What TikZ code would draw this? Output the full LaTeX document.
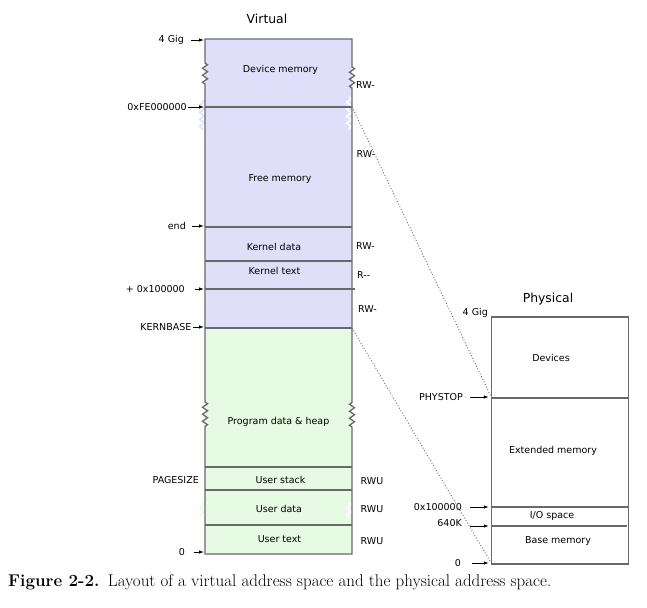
\documentclass[tikz,border=0pt]{standalone}
\usepackage{fontspec}
\newfontfamily\dejavu{DejaVu Sans}
\usetikzlibrary{positioning,arrows.meta,decorations.pathmorphing}
\definecolor{vlav}{RGB}{223,223,250}
\definecolor{vgreen}{RGB}{231,251,228}
\definecolor{edgegray}{RGB}{105,105,105}

\begin{document}
\begin{tikzpicture}[x=1pt,y=-1pt,
region/.style={rectangle, inner sep=0pt, outer sep=0pt, minimum width=147pt},
vtop/.style={region, fill=vlav},
vlow/.style={region, fill=vgreen},
preg/.style={region, minimum width=137pt, fill=white},
txt/.style={font=\dejavu\fontsize{9.5}{11}\selectfont, inner sep=0pt},
lbl/.style={txt, anchor=east},
perm/.style={txt, anchor=west},
title/.style={font=\dejavu\fontsize{12.4}{14}\selectfont, inner sep=0pt},
boxline/.style={draw=edgegray, line width=1.3pt},
ptr/.style={-{Latex[length=5pt,width=3.5pt]}, line width=0.8pt, black, shorten >=1pt},
map/.style={dotted, edgegray, line width=0.9pt, shorten >=3pt},
wavy/.style={decoration={zigzag, segment length=7pt, amplitude=2.5pt}},
]
\useasboundingbox (0,0) rectangle (647,607);

%% Virtual
\node[title] (vtitle) at (267,19) {Virtual};
\node[vtop, minimum height=68pt] (dev) at (278.5,73) {};
\node[vtop, minimum height=120pt, below=0pt of dev] (free) {};
\node[vtop, minimum height=34pt, below=0pt of free] (kdata) {};
\node[vtop, minimum height=28pt, below=0pt of kdata] (ktext) {};
\node[vtop, minimum height=39pt, below=0pt of ktext] (kbase) {};
\node[vlow, minimum height=139pt, below=0pt of kbase] (heap) {};
\node[vlow, minimum height=23pt, below=0pt of heap] (ustack) {};
\node[vlow, minimum height=35pt, below=0pt of ustack] (udata) {};
\node[vlow, minimum height=29pt, below=0pt of udata] (utext) {};
% faint breaks
\draw[vlav, line width=1.5pt, decorate, wavy] (202,100) -- (202,130);
\draw[white, line width=1.5pt, decorate, wavy] (349,97) -- (349,130);
\draw[vgreen, line width=1.5pt, decorate, wavy] (202,503) -- (202,517);
\draw[white, line width=1.5pt, decorate, wavy] (349,503) -- (349,517);
% outline
\draw[boxline] (dev.north west) -- (205,63) decorate[wavy]{-- (205,85)} -- (205,402)
  decorate[wavy]{-- (205,427)} -- (utext.south west) -- (utext.south east) -- (352,427)
  decorate[wavy]{-- (352,402)} -- (352,88) decorate[wavy]{-- (352,64)} -- (dev.north east) -- cycle;
\foreach \r in {dev,free,kdata,kbase,heap,ustack,udata}
  \draw[boxline] (\r.south west) -- (\r.south east);
\draw[boxline] (ktext.south west) -- ([xshift=3pt]ktext.south east);

\node[txt] (tdev) at (280.5,70) {Device memory};
\node[txt] (tfree) at (280,179) {Free memory};
\node[txt] (tkdata) at (274,247) {Kernel data};
\node[txt] (tktext) at (274.5,271) {Kernel text};
\node[txt] (theap) at (278.5,421.5) {Program data \& heap};
\node[txt] (tustack) at (280.5,480) {User stack};
\node[txt] (tudata) at (279,509) {User data};
\node[txt] (tutext) at (279.5,539) {User text};

\node[perm] (rw1) at (356,85) {RW-};
\node[perm] (rw2) at (356.5,154) {RW-};
\node[perm] (rw3) at (356,246.5) {RW-};
\node[perm] (r1) at (357,275) {R--};
\node[perm] (rw4) at (358,309) {RW-};
\node[perm] (rwu1) at (360.5,481) {RWU};
\node[perm] (rwu2) at (360.5,509) {RWU};
\node[perm] (rwu3) at (360.5,541) {RWU};

\node[lbl] (vgig) at (184,40) {4 Gig};
\node[lbl] (vfe) at (187,107) {0xFE000000};
\node[lbl] (vend) at (186,226) {end};
\node[lbl] (vmeg) at (185,289) {+ 0x100000};
\node[lbl] (vkern) at (191.5,327) {KERNBASE};
\node[lbl] (vpage) at (199,480) {PAGESIZE};
\node[lbl] (vzero) at (185,552) {0};
\draw[ptr, shorten <=7pt] (vgig.east) -- (vgig -| dev.west);
\draw[ptr, shorten <=1pt] (vfe.east) -- (vfe -| dev.west);
\draw[ptr, shorten <=6pt] (vend.east) -- (vend -| dev.west);
\draw[ptr, shorten <=10pt] (vmeg.east) -- (vmeg -| dev.west);
\draw[ptr, shorten <=1pt] (vkern.east) -- (vkern -| dev.west);
\draw[ptr, shorten <=9pt] (vzero.east) -- (vzero -| dev.west);

%% Physical
\node[title] (ptitle) at (548,299) {Physical};
\node[preg, minimum height=81pt] (pdev) at (560.25,357.5) {};
\node[preg, minimum height=109pt, below=0pt of pdev] (pext) {};
\node[preg, minimum height=19pt, below=0pt of pext] (pio) {};
\node[preg, minimum height=38pt, below=0pt of pio] (pbase) {};
\draw[boxline] (pdev.north west) rectangle (pbase.south east);
\foreach \r in {pdev,pext}
  \draw[boxline] (\r.south west) -- (\r.south east);
\draw[boxline] (pio.south west) -- ([xshift=-2pt]pio.south east);

\node[txt] (tpdev) at (551,358) {Devices};
\node[txt] (tpext) at (553,451) {Extended memory};
\node[txt] (tpio) at (552,516) {I/O space};
\node[txt] (tpbase) at (558,541) {Base memory};

\node[lbl] (pgig) at (488,313) {4 Gig};
\node[lbl] (pstop) at (463,397) {PHYSTOP};
\node[lbl] (pmeg) at (462,507) {0x100000};
\node[lbl] (pk) at (462,523) {640K};
\node[lbl] (pzero) at (461,563) {0};
\draw[ptr, shorten <=7pt, shorten >=3pt] (pstop.east) -- (pstop -| pext.west);
\draw[ptr, shorten <=8pt, shorten >=3pt] (pmeg.east) -- (pmeg -| pext.west);
\draw[ptr, shorten <=8pt, shorten >=3pt] ([yshift=-3pt]pk.east) -- ([yshift=-3pt]pk -| pext.west);
\draw[ptr, shorten <=11pt, shorten >=3pt] (pzero.east) -- (pzero -| pext.west);

%% mappings
\draw[map] (dev.south east) -- (pext.north west);
\draw[map] (kbase.south east) -- (pbase.south west);

\node[anchor=west, inner sep=0pt, font=\fontsize{17}{19}\selectfont] (caption) at (8,582)
  {\textbf{Figure 2-2.}\enspace Layout of a virtual address space and the physical address space.};
\end{tikzpicture}
\end{document}
